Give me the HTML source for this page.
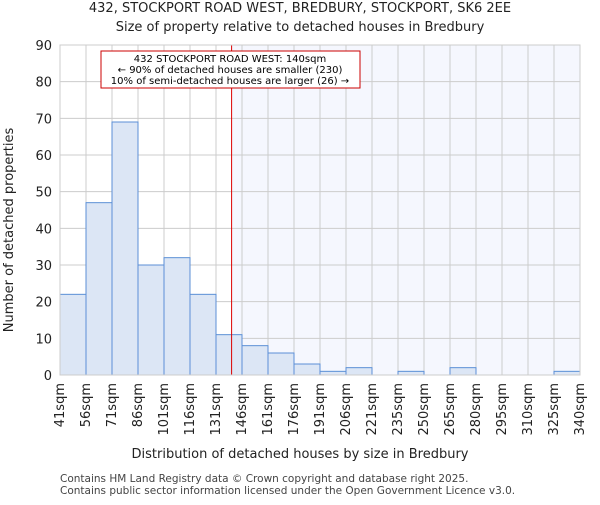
<!DOCTYPE html>
<html><head><style>body{margin:0;background:#fff}svg text{font-family:"DejaVu Sans","Liberation Sans",sans-serif}</style></head>
<body>
<svg id="c" width="600" height="500" xmlns="http://www.w3.org/2000/svg"></svg>
<script>
const binLabels=["41sqm","56sqm","71sqm","86sqm","101sqm","116sqm","131sqm","146sqm","161sqm","176sqm","191sqm","206sqm","221sqm","235sqm","250sqm","265sqm","280sqm","295sqm","310sqm","325sqm","340sqm"];
const counts=[22,47,69,30,32,22,11,8,6,3,1,2,0,1,0,2,0,0,0,1];
const yTicks=[0,10,20,30,40,50,60,70,80,90];
const markerIndex=6.6;
const X0=60,X1=580,Y0=375,Y1=45,NS="http://www.w3.org/2000/svg";
const svg=document.getElementById('c');
const bw=(X1-X0)/counts.length;
const xs=i=>X0+i*bw, ys=v=>Y0-(v/90)*(Y0-Y1);
function mk(t,a,txt){const e=document.createElementNS(NS,t);for(const k in a)e.setAttribute(k,a[k]);if(txt!=null)e.textContent=txt;svg.appendChild(e);return e;}
const mx=xs(markerIndex);
let e=mk('rect',{x:mx,y:Y1,width:X1-mx,height:Y0-Y1,fill:'#f5f7fe'});


yTicks.forEach(t=>{e=mk('line',{x1:X0,x2:X1,y1:ys(t),y2:ys(t),stroke:'#cccccc'});


e=mk('text',{x:X0-8,y:ys(t)+5,'text-anchor':'end','font-size':13,fill:'#222'},t);

});
binLabels.forEach((l,i)=>{e=mk('line',{x1:xs(i),x2:xs(i),y1:Y1,y2:Y0,stroke:'#cccccc'});


const tx=xs(i)+4;
e=mk('text',{x:tx,y:Y0+8,'text-anchor':'end','font-size':13,fill:'#222',transform:`rotate(-90 ${tx} ${Y0+8})`},l);

});
counts.forEach((v,i)=>{if(v<=0)return;e=mk('rect',{x:xs(i),y:ys(v),width:bw,height:Y0-ys(v),fill:'#dce6f5',stroke:'#5b8fd6','stroke-width':1});

});
e=mk('line',{x1:mx,x2:mx,y1:Y1,y2:Y0,stroke:'#dd0000','stroke-width':1});


e=mk('rect',{x:101,y:51,width:259,height:37,fill:'#fff',stroke:'#cc0000'});


["432 STOCKPORT ROAD WEST: 140sqm","← 90% of detached houses are smaller (230)","10% of semi-detached houses are larger (26) →"].forEach((t,i)=>{
e=mk('text',{x:230,y:62+i*11,'text-anchor':'middle','font-size':10,fill:'#000'},t);

});
e=mk('rect',{x:X0,y:Y1,width:X1-X0,height:Y0-Y1,fill:'none',stroke:'#cccccc'});


e=mk('text',{x:300,y:12,'text-anchor':'middle','font-size':13,fill:'#222'},"432, STOCKPORT ROAD WEST, BREDBURY, STOCKPORT, SK6 2EE");


e=mk('text',{x:300,y:31,'text-anchor':'middle','font-size':13,fill:'#222'},"Size of property relative to detached houses in Bredbury");


e=mk('text',{x:300,y:458,'text-anchor':'middle','font-size':13,fill:'#222'},"Distribution of detached houses by size in Bredbury");


e=mk('text',{x:13,y:230,'text-anchor':'middle','font-size':13,fill:'#222',transform:'rotate(-90 13 230)'},"Number of detached properties");


e=mk('text',{x:60,y:482,'font-size':10.5,fill:'#444'},"Contains HM Land Registry data © Crown copyright and database right 2025.");


e=mk('text',{x:60,y:494,'font-size':10.5,fill:'#444'},"Contains public sector information licensed under the Open Government Licence v3.0.");


</script>
</body></html>
